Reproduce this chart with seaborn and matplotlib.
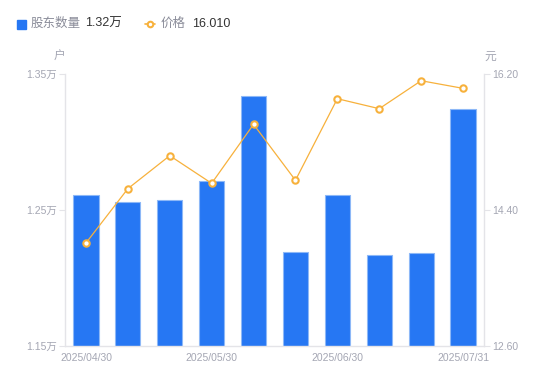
import matplotlib
matplotlib.use("Agg")
import matplotlib.pyplot as plt
from matplotlib.lines import Line2D
from matplotlib.patches import Rectangle
import seaborn as sns
import numpy as np
import pandas as pd

# data
dates = ["2025/04/30", "2025/05/09", "2025/05/20", "2025/05/30", "2025/06/10",
         "2025/06/20", "2025/06/30", "2025/07/10", "2025/07/18", "2025/07/31"]
holders = [1.2608, 1.2561, 1.2571, 1.2711, 1.3338, 1.2189, 1.2610, 1.2169, 1.2184, 1.3240]  # 万户
price = [13.963, 14.682, 15.119, 14.753, 15.534, 14.793, 15.873, 15.741, 16.111, 16.010]  # 元
shown_dates = ["2025/04/30", "2025/05/30", "2025/06/30", "2025/07/31"]
left_ticks = [1.15, 1.25, 1.35]
right_ticks = [12.60, 14.40, 16.20]

sns.set_theme(style="white")
plt.rcParams['font.family'] = ['Liberation Sans', 'Noto Sans CJK SC', 'DejaVu Sans']

bar_color = "#2677F3"
line_color = "#F7B13C"
tick_color = "#A4A6B3"
axis_color = "#E4E4E8"

df = pd.DataFrame({"date": dates, "holders": holders, "price": price, "idx": np.arange(len(dates))})

fig = plt.figure(figsize=(5.5, 3.81), dpi=100)
ax = fig.add_axes([65 / 550, 1 - 346 / 381, 419 / 550, 272 / 381])

sns.barplot(data=df, x="date", y="holders", ax=ax, color=bar_color, width=0.6,
            edgecolor="#8DB8F7", linewidth=0.8, saturation=1)
ax.set_xlim(-0.5, len(dates) - 0.5)
ax.set_ylim(1.15, 1.35)
ax.set_yticks(left_ticks)
ax.set_yticklabels([f"{v:.2f}万" for v in left_ticks])
ax.set_xticks([dates.index(d) for d in shown_dates])
ax.set_xticklabels(shown_dates)
ax.set_xlabel("")
ax.set_ylabel("")

ax2 = ax.twinx()
sns.lineplot(data=df, x="idx", y="price", ax=ax2, color=line_color, linewidth=0.9,
             marker="o", markersize=4.6, markerfacecolor="white",
             markeredgecolor=line_color, markeredgewidth=1.5)
ax2.set_ylim(12.60, 16.20)
ax2.set_yticks(right_ticks)
ax2.set_yticklabels([f"{v:.2f}" for v in right_ticks])
ax2.set_xlabel("")
ax2.set_ylabel("")
ax2.set_xlim(-0.5, len(dates) - 0.5)

for a in (ax, ax2):
    for s in a.spines.values():
        s.set_visible(False)
    a.grid(False)
ax.spines["left"].set_visible(True)
ax.spines["bottom"].set_visible(True)
ax2.spines["right"].set_visible(True)
for s in (ax.spines["left"], ax.spines["bottom"], ax2.spines["right"]):
    s.set_color(axis_color)
    s.set_linewidth(1)

ax.tick_params(axis="y", length=4, width=0.8, color=axis_color, labelcolor=tick_color,
               labelsize=7.5, pad=2)
ax.tick_params(axis="x", length=0, labelcolor=tick_color, labelsize=7.5, pad=5)
ax2.tick_params(axis="y", length=4, width=0.8, color=axis_color, labelcolor=tick_color,
                labelsize=7.5, pad=2)

# unit labels
fig.text(59 / 550, 1 - 57 / 381, "户", color=tick_color, fontsize=8.5, ha="center", va="center")
fig.text(490 / 550, 1 - 57 / 381, "元", color=tick_color, fontsize=8.5, ha="center", va="center")

# legend header
ly = 1 - 24 / 381
fig.patches.append(Rectangle((17 / 550, ly - 4.5 / 381), 9 / 550, 9 / 381,
                             transform=fig.transFigure, color=bar_color))
fig.text(31 / 550, ly, "股东数量", color="#8A8C99", fontsize=9, va="center")
fig.text(85 / 550, ly, f"{holders[-1]:.2f}万", color="#333333", fontsize=9, va="center")
fig.lines.append(Line2D([145 / 550, 155 / 550], [ly, ly], transform=fig.transFigure,
                        color=line_color, linewidth=1.2))
fig.lines.append(Line2D([150 / 550], [ly], transform=fig.transFigure, color=line_color,
                        marker="o", markersize=4, markerfacecolor="white",
                        markeredgecolor=line_color, markeredgewidth=1.5))
fig.text(161 / 550, ly, "价格", color="#8A8C99", fontsize=9, va="center")
fig.text(192 / 550, ly, f"{price[-1]:.3f}", color="#333333", fontsize=9, va="center")

fig.savefig("out.png", dpi=100)
